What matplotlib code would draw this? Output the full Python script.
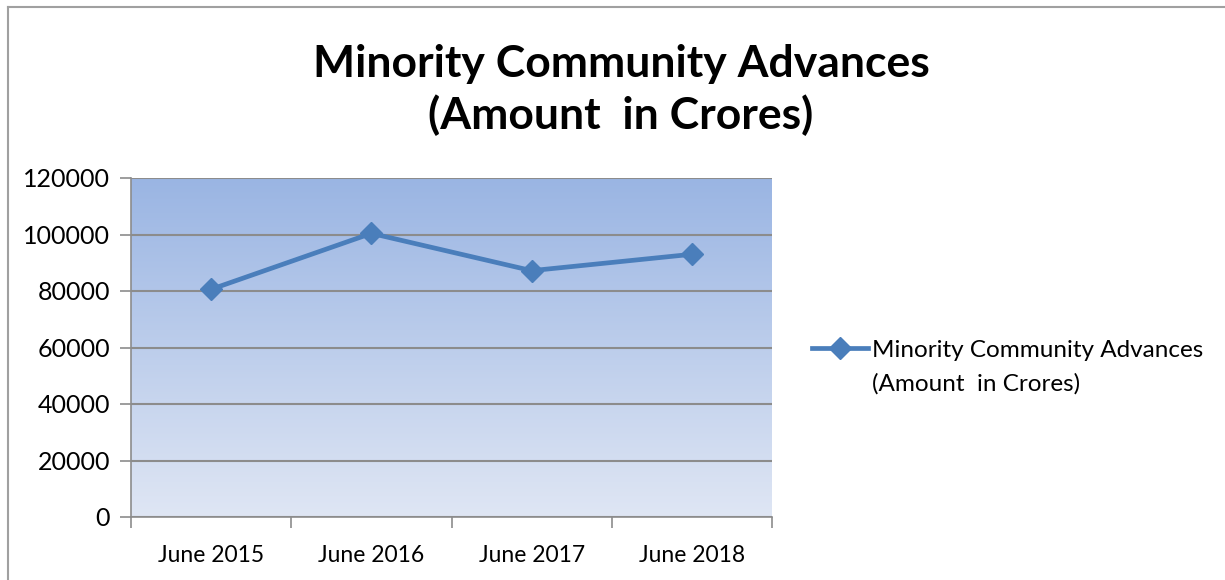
import numpy as np
import matplotlib.pyplot as plt
from matplotlib.colors import LinearSegmentedColormap
from matplotlib.lines import Line2D

plt.rcParams['font.family'] = ['Lato', 'DejaVu Sans']

categories = ['June 2015', 'June 2016', 'June 2017', 'June 2018']
advances = [80600, 100400, 87200, 93000]
series_name = 'Minority Community Advances'
series_unit = '(Amount  in Crores)'
title = 'Minority Community Advances\n(Amount  in Crores)'

line_color = '#4a7ebb'
grid_color = '#8c8c8c'

fig = plt.figure(figsize=(12.25, 5.8), dpi=100)
# outer chart border (only top and left visible in the crop)
fig.add_artist(Line2D([8 / 1225, 1.0], [1 - 7 / 580] * 2, color='#a0a0a0', lw=1.5))
fig.add_artist(Line2D([8 / 1225] * 2, [0, 1 - 7 / 580], color='#a0a0a0', lw=1.5))

ax = fig.add_axes([131 / 1225, 1 - 517 / 580, (772 - 131) / 1225, (517 - 178) / 580])

# gradient background of plot area
cmap = LinearSegmentedColormap.from_list('bg', ['#dfe6f4', '#9ab5e3'])
grad = np.linspace(0, 1, 256).reshape(-1, 1)
ax.imshow(grad, cmap=cmap, aspect='auto', extent=[0, 1, 0, 1],
          transform=ax.transAxes, origin='lower', zorder=0)

x = np.arange(len(categories))
ax.plot(x, advances, color=line_color, lw=3.4, marker='D', markersize=11,
        label=series_name, zorder=3)

ax.set_xlim(-0.5, len(categories) - 0.5)
ax.set_ylim(0, 120000)
ax.set_yticks(np.arange(0, 120001, 20000))
ax.set_yticklabels([str(v) for v in range(0, 120001, 20000)], fontsize=18)
ax.set_xticks(x)
ax.set_xticklabels(categories, fontsize=16.5)
ax.set_xticks(np.arange(-0.5, len(categories)), minor=True)
ax.tick_params(axis='x', which='major', length=0, pad=20)
ax.tick_params(axis='x', which='minor', length=8, color=grid_color, width=1.2)
ax.tick_params(axis='y', length=8, color=grid_color, width=1.2, pad=7)
ax.grid(axis='y', color=grid_color, lw=1.5, zorder=1)
ax.set_axisbelow(True)
for side in ['top', 'right']:
    ax.spines[side].set_visible(False)
for side in ['left', 'bottom']:
    ax.spines[side].set_color(grid_color)
    ax.spines[side].set_linewidth(1.2)

fig.text(621 / 1225, 1 - 90 / 580, title, ha='center', va='center',
         fontsize=32, fontweight='bold', linespacing=1.3)

# legend: handle aligned with first text line, unit on the second line
ax.legend(loc='center left', bbox_to_anchor=((812 - 131) / 641, (517 - 350) / 339),
          frameon=False, fontsize=17.5, handlelength=2.3, handletextpad=0.17,
          borderpad=0, borderaxespad=0)
fig.text(872 / 1225, 1 - 384 / 580, series_unit, ha='left', va='center', fontsize=17.5)

fig.savefig('out.png', dpi=100)
